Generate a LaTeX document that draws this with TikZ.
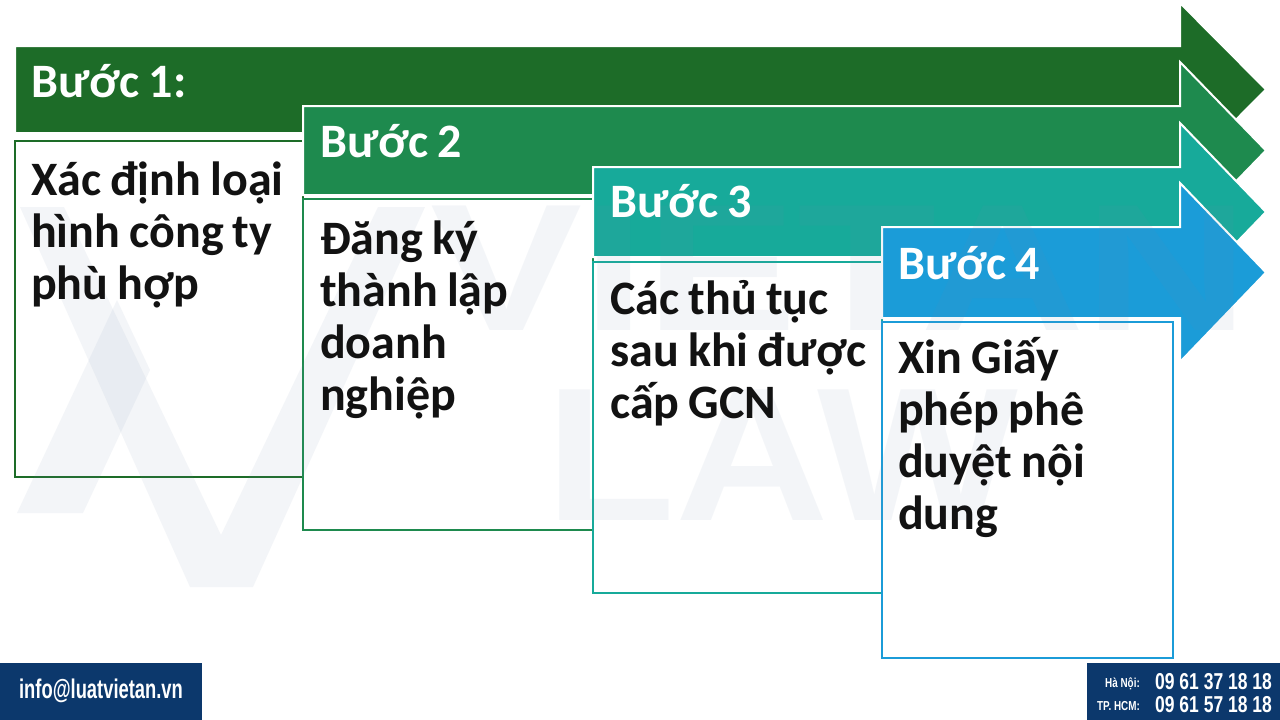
\documentclass[tikz,border=0pt]{standalone}
\usepackage{fontspec}
\setmainfont[WordSpace=0.85]{Carlito}
\newfontfamily\condfont[FakeStretch=0.68]{Liberation Sans}
\newfontfamily\phonefont[FakeStretch=0.76]{Liberation Sans}
\newfontfamily\markfont{Liberation Sans}
\definecolor{buocA}{HTML}{1D6C28}
\definecolor{buocB}{HTML}{1E8A4E}
\definecolor{buocC}{HTML}{17AA9A}
\definecolor{buocD}{HTML}{1B9CD8}
\definecolor{navy}{HTML}{0C386C}
\definecolor{wm}{RGB}{113,138,172}
\newcommand{\stepfont}{\fontsize{48}{52}\selectfont\bfseries}

\begin{document}
\begin{tikzpicture}[x=1pt, y=-1pt,
  arrowshape/.style={draw=white, line width=2pt},
  stepbox/.style={line width=1.8pt},
  head/.style={text=white, anchor=base west, inner sep=0pt, font=\stepfont},
  body/.style={anchor=north west, inner sep=0pt, align=left, font=\stepfont, text=black!93},
  wmshape/.style={fill=wm, fill opacity=0.08, draw=none},
  wmtext/.style={text=wm, text opacity=0.08, inner sep=0pt, anchor=base west}]
  \useasboundingbox[fill=white] (0,0) rectangle (1280,720);

  % buoc 1
  \fill[buocA, arrowshape] (15,46) -- (1180,46) -- (1180,3) -- (1266,89.5) -- (1180,176) -- (1180,133) -- (15,133) -- cycle;
  \draw[buocA, stepbox] (15,141) rectangle (303,477);
  % buoc 2
  \fill[buocB, arrowshape] (303,106) -- (1180,106) -- (1180,62) -- (1266,150.5) -- (1180,239) -- (1180,195) -- (303,195) -- cycle;
  \draw[buocB, stepbox] (303,199) rectangle (593,530);
  % buoc 3
  \fill[buocC, arrowshape] (593,167) -- (1180,167) -- (1180,123) -- (1266,212) -- (1180,301) -- (1180,257) -- (593,257) -- cycle;
  \draw[buocC, stepbox] (593,262) rectangle (882,593);
  % buoc 4
  \fill[buocD, arrowshape] (882,227) -- (1180,227) -- (1180,183) -- (1266,272.5) -- (1180,362) -- (1180,318) -- (882,318) -- cycle;
  \draw[buocD, stepbox] (882,322) rectangle (1173,658);

  % watermark
  \fill[wmshape] (20,207) -- (64,207) -- (221,535) -- (378,207) -- (425,207) -- (253,587) -- (190,587) -- cycle;
  \fill[wmshape] (17,513) -- (83,513) -- (150,370) -- (117,300) -- cycle;
  \node[wmtext, font=\markfont\bfseries\fontsize{181}{181}\selectfont] (wmname) at (430,330) {\scalebox{1.26}[1]{VIETAN}};
  \node[wmtext, font=\markfont\bfseries\fontsize{190}{190}\selectfont] (wmlaw) at (545,520) {\scalebox{1.12}[1]{LAW}};

  \node[head] (h1) at (31,97) {Bước 1:};
  \node[head] (h2) at (320,157) {Bước 2};
  \node[head] (h3) at (610,217) {Bước 3};
  \node[head] (h4) at (898,279) {Bước 4};

  % body text: top of first line = baseline - 40
  \node[body] (t1) at (31,159) {\strut Xác định loại\\hình công ty\\phù hợp};
  \node[body] (t2) at (320,218) {\strut Đăng ký\\thành lập\\doanh\\nghiệp};
  \node[body] (t3) at (610,278) {\strut Các thủ tục\\sau khi được\\cấp GCN};
  \node[body] (t4) at (898,337) {\strut Xin Giấy\\phép phê\\duyệt nội\\dung};

  % contact bars
  \fill[navy] (0,663) rectangle (202,720);
  \node[text=white, font=\condfont\bfseries\fontsize{27}{27}\selectfont] (mail) at (101,691) {info@luatvietan.vn};
  \fill[navy] (1087,663) rectangle (1280,720);
  \node[text=white, anchor=base east, inner sep=0pt, font=\phonefont\bfseries\fontsize{13}{13}\selectfont] (hn) at (1140,687) {Hà Nội:};
  \node[text=white, anchor=base east, inner sep=0pt, font=\phonefont\bfseries\fontsize{13}{13}\selectfont] (hcm) at (1140,710) {TP. HCM:};
  \node[text=white, anchor=base west, inner sep=0pt, font=\phonefont\bfseries\fontsize{23}{23}\selectfont] (hnphone) at (1155,689) {09 61 37 18 18};
  \node[text=white, anchor=base west, inner sep=0pt, font=\phonefont\bfseries\fontsize{23}{23}\selectfont] (hcmphone) at (1155,712) {09 61 57 18 18};
\end{tikzpicture}
\end{document}
